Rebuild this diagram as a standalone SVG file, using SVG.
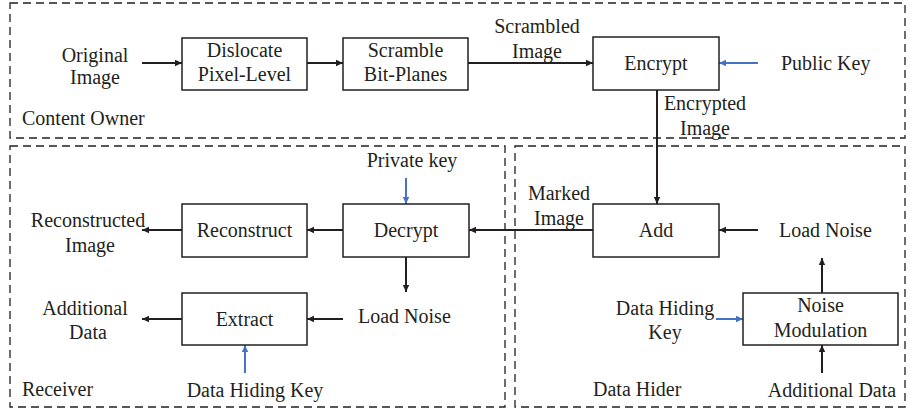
<svg xmlns="http://www.w3.org/2000/svg" width="910" height="411" viewBox="0 0 910 411">
<defs>
<style>
text{font-size:20px;fill:#231f20}
.m{text-anchor:middle}
.box{fill:#fff;stroke:#231f20;stroke-width:1.5}
.zone{fill:none;stroke:#231f20;stroke-width:1.3;stroke-dasharray:8 5}
.c{fill:none;stroke:#231f20;stroke-width:2}
.b{fill:none;stroke:#4472c4;stroke-width:2}
</style>
<marker id="ak" markerWidth="8" markerHeight="8" refX="7" refY="4" orient="auto" markerUnits="userSpaceOnUse"><path d="M0,0.8 L7,4 L0,7.2 Z" fill="#231f20"/></marker>
<marker id="ab" markerWidth="8" markerHeight="8" refX="7" refY="4" orient="auto" markerUnits="userSpaceOnUse"><path d="M0,0.8 L7,4 L0,7.2 Z" fill="#4472c4"/></marker>
</defs>
<rect x="0" y="0" width="910" height="411" fill="#fff"/>
<g font-family="Liberation Serif, Times New Roman, serif">
<g id="zones">
<rect class="zone" x="10" y="3" width="895" height="135"/>
<rect class="zone" x="10" y="146" width="495" height="261"/>
<rect class="zone" x="515" y="146" width="390" height="261"/>
<text x="22" y="125">Content Owner</text>
<text x="22" y="396">Receiver</text>
<text x="593" y="396">Data Hider</text>
</g>
<g id="connectors">
<line class="c" x1="142" y1="63" x2="182" y2="63" marker-end="url(#ak)"/>
<line class="c" x1="307" y1="63" x2="343" y2="63" marker-end="url(#ak)"/>
<line class="c" x1="468" y1="63" x2="593" y2="63" marker-end="url(#ak)"/>
<line class="b" x1="758" y1="63" x2="719" y2="63" marker-end="url(#ab)"/>
<line class="c" x1="657" y1="90" x2="657" y2="204" marker-end="url(#ak)"/>
<line class="c" x1="593" y1="230" x2="469" y2="230" marker-end="url(#ak)"/>
<line class="c" x1="758" y1="230" x2="719" y2="230" marker-end="url(#ak)"/>
<line class="c" x1="822" y1="293" x2="822" y2="258" marker-end="url(#ak)"/>
<line class="c" x1="822" y1="373" x2="822" y2="345" marker-end="url(#ak)"/>
<line class="b" x1="716" y1="319" x2="743" y2="319" marker-end="url(#ab)"/>
<line class="c" x1="343" y1="230" x2="307" y2="230" marker-end="url(#ak)"/>
<line class="c" x1="182" y1="230" x2="142" y2="230" marker-end="url(#ak)"/>
<line class="b" x1="406" y1="178" x2="406" y2="204" marker-end="url(#ab)"/>
<line class="c" x1="406" y1="257" x2="406" y2="292" marker-end="url(#ak)"/>
<line class="c" x1="343" y1="319" x2="307" y2="319" marker-end="url(#ak)"/>
<line class="c" x1="182" y1="319" x2="142" y2="319" marker-end="url(#ak)"/>
<line class="b" x1="245" y1="373" x2="245" y2="345" marker-end="url(#ab)"/>
</g>
<g id="original-image"><text class="m" x="95" y="62">Original</text><text class="m" x="95" y="84">Image</text></g>
<g id="dislocate"><rect class="box" x="182" y="38" width="125" height="52"/><text class="m" x="244.5" y="57">Dislocate</text><text class="m" x="244.5" y="81">Pixel-Level</text></g>
<g id="scramble"><rect class="box" x="343" y="38" width="125" height="52"/><text class="m" x="405.5" y="57">Scramble</text><text class="m" x="405.5" y="81">Bit-Planes</text></g>
<g id="scrambled-image"><text class="m" x="537" y="33">Scrambled</text><text class="m" x="537" y="58">Image</text></g>
<g id="encrypt"><rect class="box" x="593" y="37" width="126" height="53"/><text class="m" x="656" y="70">Encrypt</text></g>
<g id="public-key"><text x="781" y="70">Public Key</text></g>
<g id="encrypted-image"><text class="m" x="705" y="110">Encrypted</text><text class="m" x="705" y="135">Image</text></g>
<g id="add"><rect class="box" x="593" y="204" width="126" height="53"/><text class="m" x="656" y="237">Add</text></g>
<g id="marked-image"><text class="m" x="559" y="200">Marked</text><text class="m" x="559" y="225">Image</text></g>
<g id="load-noise-hider"><text x="779" y="237">Load Noise</text></g>
<g id="noise-modulation"><rect class="box" x="743" y="293" width="155" height="52"/><text class="m" x="820.5" y="312">Noise</text><text class="m" x="820.5" y="337">Modulation</text></g>
<g id="data-hiding-key-hider"><text class="m" x="665" y="315">Data Hiding</text><text class="m" x="665" y="339">Key</text></g>
<g id="additional-data-hider"><text class="m" x="832" y="397">Additional Data</text></g>
<g id="private-key"><text class="m" x="412" y="167">Private key</text></g>
<g id="decrypt"><rect class="box" x="343" y="204" width="126" height="53"/><text class="m" x="406" y="237">Decrypt</text></g>
<g id="reconstruct"><rect class="box" x="182" y="204" width="125" height="53"/><text class="m" x="244.5" y="237">Reconstruct</text></g>
<g id="reconstructed-image"><text class="m" x="88" y="227">Reconstructed</text><text class="m" x="90" y="252">Image</text></g>
<g id="load-noise-receiver"><text x="358" y="323">Load Noise</text></g>
<g id="extract"><rect class="box" x="182" y="293" width="125" height="52"/><text class="m" x="244.5" y="326">Extract</text></g>
<g id="additional-data-receiver"><text class="m" x="85" y="315">Additional</text><text class="m" x="88" y="339">Data</text></g>
<g id="data-hiding-key-receiver"><text class="m" x="255" y="397">Data Hiding Key</text></g>
</g>
</svg>
